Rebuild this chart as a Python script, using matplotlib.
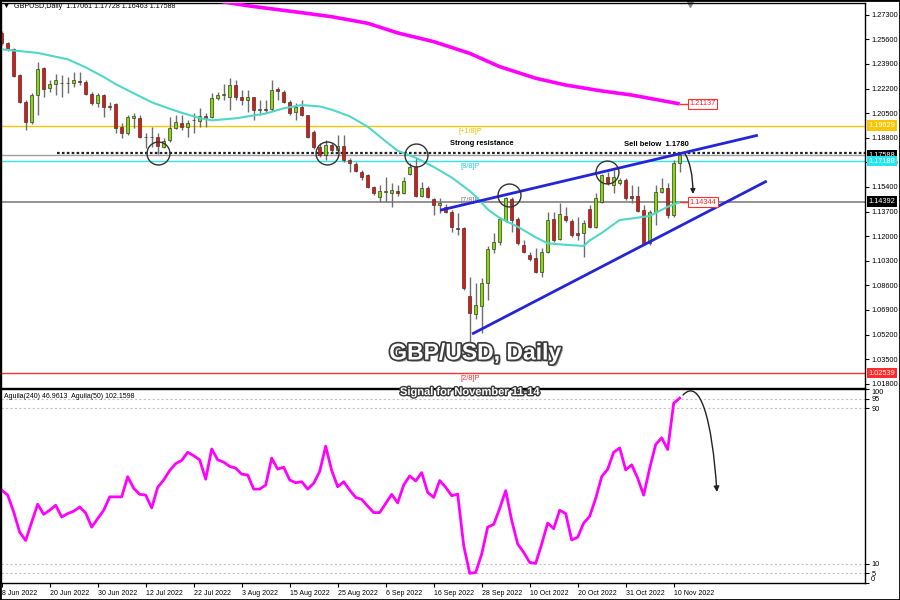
import numpy as np
import matplotlib.pyplot as plt
import matplotlib.patheffects as pe
from matplotlib.patches import FancyArrowPatch, Rectangle
from matplotlib.path import Path

plt.rcParams['font.family'] = ['Liberation Sans', 'DejaVu Sans']

# ---- daily candles, GBPUSD 8 Jun 2022 .. 11 Nov 2022 ----
opens = [1.2601, 1.2537, 1.2491, 1.2313, 1.2129, 1.1991, 1.2175, 1.2360, 1.2222, 1.2249,
         1.2260, 1.2255, 1.2256, 1.2268, 1.2267, 1.2182, 1.2118, 1.2175, 1.2099, 1.2111,
         1.1956, 1.1915, 1.2015, 1.2014, 1.1885, 1.1883, 1.1887, 1.1814, 1.1864, 1.1945,
         1.1980, 1.1956, 1.1999, 1.1998, 1.2032, 1.2025, 1.2152, 1.2177, 1.2163, 1.2242,
         1.2163, 1.2141, 1.2159, 1.2074, 1.2078, 1.2076, 1.2214, 1.2196, 1.2125, 1.2060,
         1.2090, 1.2037, 1.1922, 1.1818, 1.1761, 1.1830, 1.1795, 1.1825, 1.1726, 1.1698,
         1.1645, 1.1622, 1.1537, 1.1472, 1.1506, 1.1496, 1.1514, 1.1496, 1.1632, 1.1675,
         1.1479, 1.1530, 1.1454, 1.1415, 1.1403, 1.1365, 1.1256, 1.1254, 1.0788, 1.0665,
         1.0718, 1.0874, 1.1111, 1.1157, 1.1313, 1.1456, 1.1318, 1.1139, 1.1070, 1.1047,
         1.0954, 1.1092, 1.1316, 1.1180, 1.1341, 1.1305, 1.1224, 1.1219, 1.1385, 1.1265,
         1.1438, 1.1611, 1.1553, 1.1565, 1.1588, 1.1477, 1.1477, 1.1380, 1.1150, 1.1369,
         1.1507, 1.1530, 1.1346, 1.17061]
highs = [1.2617, 1.2543, 1.2498, 1.2320, 1.2141, 1.2187, 1.2405, 1.2371, 1.2279, 1.2320,
         1.2313, 1.2300, 1.2336, 1.2336, 1.2279, 1.2198, 1.2187, 1.2182, 1.2129, 1.2118,
         1.1980, 1.2037, 1.2049, 1.2037, 1.1910, 1.1956, 1.1910, 1.1876, 1.2025, 1.2037,
         1.2037, 1.2002, 1.2049, 1.2083, 1.2049, 1.2187, 1.2198, 1.2250, 1.2293, 1.2279,
         1.2210, 1.2210, 1.2163, 1.2141, 1.2141, 1.2279, 1.2233, 1.2210, 1.2141, 1.2118,
         1.2141, 1.2040, 1.1930, 1.1841, 1.1864, 1.1841, 1.1899, 1.1899, 1.1738, 1.1714,
         1.1655, 1.1630, 1.1545, 1.1553, 1.1611, 1.1565, 1.1553, 1.1611, 1.1703, 1.1738,
         1.1576, 1.1545, 1.1465, 1.1461, 1.1420, 1.1381, 1.1358, 1.1265, 1.0920, 1.0874,
         1.0909, 1.1130, 1.1219, 1.1334, 1.1472, 1.1472, 1.1334, 1.1173, 1.1092, 1.1116,
         1.1116, 1.1369, 1.1369, 1.1427, 1.1403, 1.1320, 1.1334, 1.1310, 1.1415, 1.1496,
         1.1630, 1.1645, 1.1657, 1.1600, 1.1600, 1.1553, 1.1546, 1.1415, 1.1380, 1.1553,
         1.1600, 1.1565, 1.1726, 1.17728]
lows = [1.2521, 1.2481, 1.2298, 1.2118, 1.1933, 1.1975, 1.2037, 1.2163, 1.2198, 1.2175,
        1.2163, 1.2190, 1.2233, 1.2244, 1.2175, 1.2106, 1.2094, 1.2025, 1.2072, 1.1910,
        1.1876, 1.1899, 1.1945, 1.1876, 1.1807, 1.1818, 1.1767, 1.1807, 1.1852, 1.1938,
        1.1933, 1.1887, 1.1910, 1.1956, 1.1956, 1.2014, 1.2141, 1.2140, 1.2072, 1.2141,
        1.2106, 1.2060, 1.2002, 1.2037, 1.2049, 1.2067, 1.2141, 1.2118, 1.2037, 1.2002,
        1.2030, 1.1880, 1.1800, 1.1750, 1.1726, 1.1780, 1.1780, 1.1710, 1.1645, 1.1640,
        1.1588, 1.1530, 1.1484, 1.1438, 1.1438, 1.1403, 1.1480, 1.1490, 1.1620, 1.1470,
        1.1470, 1.1461, 1.1346, 1.1358, 1.1360, 1.1231, 1.1208, 1.0830, 1.0340, 1.0630,
        1.0528, 1.0760, 1.1081, 1.1140, 1.1300, 1.1231, 1.1140, 1.1080, 1.1030, 1.0943,
        1.0920, 1.1080, 1.1160, 1.1170, 1.1300, 1.1196, 1.1173, 1.1058, 1.1255, 1.1255,
        1.1430, 1.1550, 1.1496, 1.1555, 1.1450, 1.1427, 1.1365, 1.1139, 1.1139, 1.1280,
        1.1495, 1.1323, 1.1335, 1.16463]
closes = [1.2532, 1.2491, 1.2306, 1.2129, 1.1991, 1.2175, 1.2353, 1.2215, 1.2251, 1.2279,
          1.2256, 1.2258, 1.2279, 1.2267, 1.2182, 1.2118, 1.2175, 1.2090, 1.2095, 1.1949,
          1.1915, 1.2021, 1.2030, 1.1883, 1.1882, 1.1886, 1.1823, 1.1860, 1.1949, 1.1991,
          1.1956, 1.1980, 1.2002, 1.2032, 1.2014, 1.2152, 1.2175, 1.2180, 1.2242, 1.2163,
          1.2141, 1.2159, 1.2072, 1.2078, 1.2074, 1.2210, 1.2203, 1.2129, 1.2049, 1.2090,
          1.2037, 1.1887, 1.1818, 1.1761, 1.1830, 1.1795, 1.1823, 1.1726, 1.1707, 1.1652,
          1.1611, 1.1537, 1.1500, 1.1512, 1.1509, 1.1519, 1.1496, 1.1581, 1.1675, 1.1479,
          1.1535, 1.1472, 1.1415, 1.1431, 1.1369, 1.1261, 1.1250, 1.0839, 1.0671, 1.0724,
          1.0878, 1.1111, 1.1157, 1.1318, 1.1466, 1.1311, 1.1150, 1.1092, 1.1040, 1.0954,
          1.1092, 1.1311, 1.1173, 1.1351, 1.1311, 1.1208, 1.1208, 1.1293, 1.1265, 1.1461,
          1.1622, 1.1565, 1.1611, 1.1588, 1.1461, 1.1461, 1.1376, 1.1150, 1.1369, 1.1507,
          1.1530, 1.1346, 1.1707, 1.17588]

# moving averages, sampled along the drawn lines (bar index, price)
ma_fast_bars = [0, 6, 11, 14, 17, 19, 22, 25, 28, 30, 33, 35, 39, 44, 47, 50, 53, 55, 58, 61,
                64, 66, 69, 72, 75, 78, 79, 81, 83, 86, 89, 91, 94, 97, 98, 100, 103, 105,
                108, 111, 113]
ma_fast = [1.2491, 1.2466, 1.2422, 1.2366, 1.2300, 1.2250, 1.2187, 1.2125, 1.2080, 1.2052,
           1.2016, 1.2000, 1.2014, 1.2047, 1.2083, 1.2106, 1.2096, 1.2074, 1.2028, 1.1956,
           1.1855, 1.1790, 1.1742, 1.1678, 1.1605, 1.1512, 1.1475, 1.1385, 1.1325, 1.1265,
           1.1192, 1.1150, 1.1140, 1.1132, 1.1170, 1.1222, 1.1311, 1.1322, 1.1339, 1.1403,
           1.14344]
ma_slow_bars = [35, 37, 41, 50, 55, 61, 66, 72, 78, 83, 89, 94, 100, 105, 111, 113]
ma_slow = [1.2846, 1.2818, 1.2792, 1.2744, 1.2716, 1.2671, 1.2604, 1.2544, 1.2463, 1.2371,
           1.2291, 1.2244, 1.2203, 1.2175, 1.2129, 1.21137]

# Aguila(50) oscillator, one value per bar
aguila = [47.9, 45.3, 36.6, 26.2, 21.9, 31.4, 40.6, 35.4, 37.5, 40.1,
          34.0, 35.8, 37.0, 39.2, 36.1, 28.8, 33.2, 37.5, 44.4, 44.4,
          44.4, 54.8, 48.8, 45.7, 45.3, 38.7, 49.3, 53.1, 58.0, 61.5,
          63.2, 67.4, 65.6, 63.5, 53.5, 69.1, 63.5, 62.3, 60.1, 59.2,
          56.1, 55.7, 48.4, 48.4, 50.5, 64.4, 58.7, 59.7, 53.1, 51.7,
          52.2, 48.4, 51.4, 57.5, 70.5, 58.0, 49.6, 52.2, 47.9, 44.1,
          43.1, 39.6, 36.3, 36.3, 41.0, 45.7, 41.3, 50.5, 55.2, 52.6,
          56.9, 46.7, 44.1, 52.8, 49.3, 45.0, 45.8, 19.3, 5.0, 5.4,
          14.9, 28.8, 30.2, 38.4, 47.6, 32.3, 20.1, 15.8, 10.6, 10.1,
          20.1, 30.9, 28.0, 37.5, 35.8, 22.2, 23.6, 30.9, 34.4, 43.6,
          54.8, 58.7, 67.4, 69.6, 58.3, 60.9, 54.0, 45.3, 59.2, 71.4,
          74.8, 68.8, 92.7, 95.3]

date_bars = [0, 8, 16, 24, 32, 40, 48, 56, 64, 72, 80, 88, 96, 104, 112]
date_labels = ['8 Jun 2022', '20 Jun 2022', '30 Jun 2022', '12 Jul 2022', '22 Jul 2022',
               '3 Aug 2022', '15 Aug 2022', '25 Aug 2022', '6 Sep 2022', '16 Sep 2022',
               '28 Sep 2022', '10 Oct 2022', '20 Oct 2022', '31 Oct 2022', '10 Nov 2022']
price_ticks = [1.273, 1.256, 1.239, 1.222, 1.205, 1.188, 1.171, 1.154,
               1.137, 1.120, 1.103, 1.086, 1.069, 1.052, 1.035, 1.018]

# Murrey levels and other horizontal lines
lvl_plus18 = 1.19629
lvl_88 = 1.17188
lvl_78 = 1.14392
lvl_28 = 1.02539
bid = 1.17588
resistance = 1.1772

# annotations (bar, price)
upper_trend = ([73.3, 125.8], [1.1381, 1.1895])
lower_trend = ([78.6, 127.3], [1.0528, 1.1576])
circle_bars = [26.1, 54.2, 69.0, 84.6, 100.9]
circle_prices = [1.1772, 1.1772, 1.1760, 1.1484, 1.1643]

W, H = 900, 600
fig = plt.figure(figsize=(9, 6), dpi=100)


def frame(x0, y0, x1, y1):
    return [x0 / W, 1 - y1 / H, (x1 - x0) / W, (y1 - y0) / H]


ax = fig.add_axes(frame(1, 3, 865, 388))
ax2 = fig.add_axes(frame(1, 389, 865, 583))
xlim = ((1 - 1.7) / 6, (865 - 1.7) / 6)

# ---- candles ----
o, h, l, c = (np.array(v) for v in (opens, highs, lows, closes))
bars = np.arange(len(c))
up = c >= o
ax.vlines(bars, l, h, color='#6e6e6e', lw=1, zorder=3)
ax.bar(bars, np.maximum(np.abs(c - o), 0.00025), bottom=np.minimum(o, c), width=0.55,
       color=np.where(up, '#7fdd00', '#e8140c'), edgecolor='#3a3a3a', linewidth=0.5, zorder=4)

ax.plot(ma_fast_bars, ma_fast, color='#4fd8c8', lw=1.5, zorder=5)
ax.plot(ma_slow_bars, ma_slow, color='#ff00ff', lw=2.6, zorder=5, solid_capstyle='butt')

ax.axhline(lvl_plus18, color='#f7c600', lw=1, zorder=2)
ax.axhline(bid, color='#a0a0a0', lw=1, zorder=2)
ax.plot([9.2, xlim[1]], [resistance, resistance], color='#222222', lw=1.6,
        ls=(0, (1.2, 1.0)), zorder=2)
ax.axhline(lvl_88, color='#33e6e6', lw=1, zorder=2)
ax.axhline(lvl_78, color='#808080', lw=1.2, zorder=2)
ax.axhline(lvl_28, color='#ff3333', lw=1, zorder=2)

ax.plot(*upper_trend, color='#2424d8', lw=2, zorder=6)
ax.plot(*lower_trend, color='#2424d8', lw=2, zorder=6)
ax.plot(circle_bars, circle_prices, 'o', ms=16.5, mfc='none', mec='#333333', mew=1, zorder=7)

# murrey labels
ax.annotate('[+1/8]P', (78.1, lvl_plus18), xytext=(0, -1.5), textcoords='offset points',
            ha='center', va='top', color='#f0c000', fontsize=5.3)
ax.annotate('[8/8]P', (78.1, lvl_88), xytext=(0, -1.5), textcoords='offset points',
            ha='center', va='top', color='#22d0e0', fontsize=5.3)
ax.text(78.1, lvl_78 + 0.0006, '[7/8]P', ha='center', va='center', color='#808080', fontsize=5.3)
ax.annotate('[2/8]P', (78.1, lvl_28), xytext=(0, -1.5), textcoords='offset points',
            ha='center', va='top', color='#ff3030', fontsize=5.3)

ax.text(80.0, 1.1837, 'Strong resistance', ha='center', va='center', fontsize=5.4,
        fontweight='bold')
ax.text(109.2, 1.1834, 'Sell below  1.1780', ha='center', va='center', fontsize=5.5,
        fontweight='bold')

# value tags next to the moving averages
for val, col in ((ma_slow[-1], 'slow'), (ma_fast[-1], 'fast')):
    ax.plot([113, 114.3], [val, val], color='#ff3030', lw=1, zorder=6)
    ax.text(114.6, val, f'{val:.5f}', ha='left', va='center', color='#ff2020', fontsize=5.3,
            zorder=8, bbox=dict(boxstyle='square,pad=0.2', fc='white', ec='#ff3030', lw=0.8))

# forecast arrow on price
arrow_path = Path([(113.9, 1.17675), (114.7, 1.1712), (115.2, 1.1622), (115.2, 1.1491)],
                  [Path.MOVETO, Path.CURVE4, Path.CURVE4, Path.CURVE4])
ax.add_patch(FancyArrowPatch(path=arrow_path, arrowstyle='-|>', mutation_scale=7,
                             color='#222222', lw=1, zorder=8))
ax.plot([114.7], [1.2806], 'v', color='#8a8a8a', ms=4, clip_on=False)

ax.set_xlim(*xlim)
ax.set_ylim(1.01505, 1.28109)
ax.set_xticks([])
ax.yaxis.tick_right()
ax.set_yticks(price_ticks)
ax.set_yticklabels([f'{v:.5f}' for v in price_ticks], fontsize=5.3)
ax.tick_params(axis='y', direction='out', length=3, width=0.8, pad=1.5)

# right-hand price tags
tags = [(lvl_plus18, '#f7c600', 'white'), (bid, 'black', 'white'),
        (lvl_88, '#22e6f0', 'white'), (lvl_78, 'black', 'white'), (lvl_28, '#ff2a2a', 'white')]
for val, bg, fg in tags:
    ax.text(1.004, val, f'{val:.5f}', transform=ax.get_yaxis_transform(), ha='left',
            va='center', fontsize=5.3, color=fg, clip_on=False, zorder=9,
            bbox=dict(boxstyle='square,pad=0.25', fc=bg, ec='none'))

# ---- indicator panel ----
ax2.plot(bars, aguila, color='#ff00ff', lw=2, zorder=4)
for lv in (95, 90, 10, 5):
    ax2.axhline(lv, color='#c4c4c4', lw=0.8, ls=(0, (2, 2)), zorder=1)
ind_path = Path([(113.55, 96.9), (116.4, 106.2), (118.4, 84.4), (119.2, 46.9)],
                [Path.MOVETO, Path.CURVE4, Path.CURVE4, Path.CURVE4])
ax2.add_patch(FancyArrowPatch(path=ind_path, arrowstyle='-|>', mutation_scale=8,
                              color='#222222', lw=1, zorder=8, clip_on=False))
ax2.set_xlim(*xlim)
ax2.set_ylim(0, 100)
ax2.yaxis.tick_right()
ax2.set_yticks([100, 95, 90, 10, 5, 0])
ylabs = ax2.set_yticklabels(['100', '95', '90', '10', '5', '0'], fontsize=5.3)
ylabs[0].set_va('top')
ylabs[-1].set_va('bottom')
ax2.tick_params(axis='y', direction='out', length=3, width=0.8, pad=1.5)
ax2.set_xticks(date_bars)
ax2.set_xticklabels(date_labels, fontsize=5.0, ha='left')
ax2.tick_params(axis='x', direction='out', length=3, width=0.8, pad=2)

for a in (ax, ax2):
    for s in a.spines.values():
        s.set_linewidth(1)
        s.set_color('black')

# ---- captions ----
fig.text(3 / W, 1 - 7 / H, '\u25bc  GBPUSD,Daily  1.17061 1.17728 1.16463 1.17588',
         fontsize=5.1, va='center')
fig.text(4 / W, 1 - 396 / H, 'Aguila(240) 46.9613  Aguila(50) 102.1598', fontsize=5.0,
         va='center')

outline = [pe.SimplePatchShadow(offset=(1.5, -1.5), shadow_rgbFace='#555555', alpha=0.6),
           pe.Stroke(linewidth=2.5, foreground='#3c3c3c'), pe.Normal()]
fig.text(475 / W, 1 - 353 / H, 'GBP/USD, Daily', fontsize=16.5, fontweight='bold',
         color='white', ha='center', va='center', path_effects=outline, zorder=10)
fig.text(470 / W, 1 - 392 / H, 'Signal for November 11-14', fontsize=8, fontweight='bold',
         color='white', ha='center', va='center', zorder=10,
         path_effects=[pe.Stroke(linewidth=2, foreground='#3c3c3c'), pe.Normal()])

fig.add_artist(Rectangle((0, 0), 1, 1, transform=fig.transFigure, fill=False,
                         ec='black', lw=2))

plt.savefig('out.png', dpi=100)
plt.close()
